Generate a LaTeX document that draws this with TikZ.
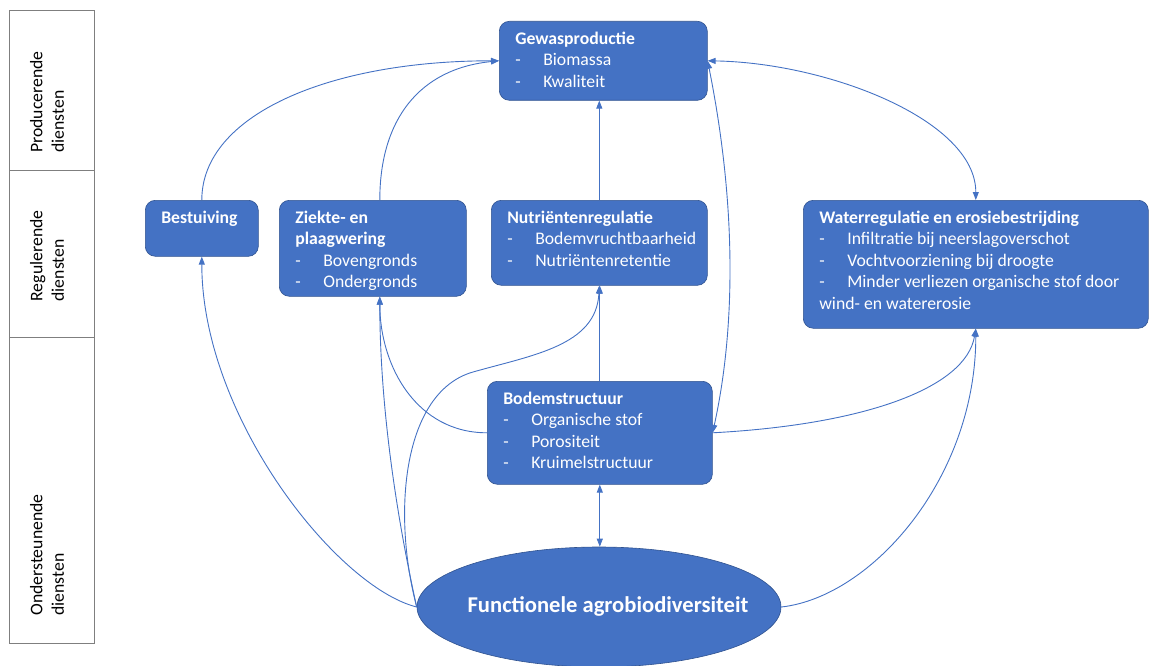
\documentclass[tikz,border=0pt]{standalone}
\usepackage{fontspec}
\setmainfont{Carlito}
\usetikzlibrary{shapes.geometric, arrows.meta}
\definecolor{OfficeBlue}{HTML}{4472C4}
\definecolor{OfficeEdge}{HTML}{2F528F}
\definecolor{FrameGray}{HTML}{7F7F7F}
\newcommand{\svcbody}[3]{\begin{minipage}[c][\dimexpr#2pt-16pt\relax][t]{\dimexpr#1pt-32pt\relax}\raggedright\strut#3\end{minipage}}
\newcommand{\svcitem}[1]{\par\hangindent=28pt\hangafter=1\noindent\makebox[28pt][l]{-}#1}

\begin{document}
\begin{tikzpicture}[x=1pt, y=-1pt, font=\fontsize{17.7}{21.5}\selectfont,
    svc/.style={draw=OfficeEdge, fill=OfficeBlue, text=white, rounded corners=10pt, anchor=north west, inner xsep=16pt, inner ysep=8pt, line width=0.6pt},
    link/.style={OfficeBlue, line width=0.9pt, -{Triangle[length=8pt,width=6pt]}},
    dlink/.style={link, {Triangle[length=8pt,width=6pt]}-{Triangle[length=8pt,width=6pt]}},
    cell/.style={draw=FrameGray, line width=0.8pt, minimum width=85pt, inner sep=0pt},
    celltxt/.style={rotate=90, align=left, inner sep=0pt}]
    \useasboundingbox (0,0) rectangle (1149,666);

    \node[cell, minimum height=160pt] (prod) at (51.5,90) {};
    \node[cell, minimum height=167pt] (reg) at (51.5,253.5) {};
    \node[cell, minimum height=306pt] (onder) at (51.5,490) {};
    \node[celltxt] (prodlbl) at (47,102) {Producerende\\diensten};
    \node[celltxt] (reglbl) at (47,256) {Regulerende\\diensten};
    \node[celltxt] (onderlbl) at (47,555) {Ondersteunende\\diensten};

    \node[svc] (gewas) at (499,21) {\svcbody{208}{79}{\textbf{Gewasproductie}\svcitem{Biomassa}\svcitem{Kwaliteit}}};
    \node[svc] (best) at (145,200) {\svcbody{113}{56}{\textbf{Bestuiving}}};
    \node[svc] (ziekte) at (279,200) {\svcbody{187}{96}{\textbf{Ziekte- en}\\\textbf{plaagwering}\svcitem{Bovengronds}\svcitem{Ondergronds}}};
    \node[svc] (nutr) at (491,200) {\svcbody{216}{85}{\textbf{Nutriëntenregulatie}\svcitem{Bodemvruchtbaarheid}\svcitem{Nutriëntenretentie}}};
    \node[svc] (water) at (803,200) {\svcbody{345}{128}{\textbf{Waterregulatie en erosiebestrijding}\svcitem{Infiltratie bij neerslagoverschot}\svcitem{Vochtvoorziening bij droogte}\svcitem{Minder verliezen organische stof door\\wind- en watererosie}}};
    \node[svc] (bodem) at (487,381) {\svcbody{225}{103}{\textbf{Bodemstructuur}\svcitem{Organische stof}\svcitem{Porositeit}\svcitem{Kruimelstructuur}}};
    \node[ellipse, draw=OfficeEdge, fill=OfficeBlue, text=white, line width=0.6pt, minimum width=364pt, minimum height=120pt, inner sep=0pt, font=\bfseries\fontsize{22.6}{27}\selectfont] (fab) at (599,607) {\makebox[0pt]{\raisebox{-0.5ex}[0pt][0pt]{\hspace{18pt}Functionele agrobiodiversiteit}}};
    \coordinate (sbend) at (473,372);

    \draw[link] (best.north) .. controls +(0,-85) and +(-170,0) .. (gewas.west);
    \draw[link] ([xshift=7pt]ziekte.north) .. controls +(0,-80) and +(-80,8) .. (gewas.west);
    \draw[link] (nutr.north) -- (nutr.north |- gewas.south);
    \draw[dlink] (gewas.east) .. controls +(120,2) and +(0,-80) .. (water.north);
    \draw[dlink] (bodem.east) .. controls +(22,-100) and +(30,150) .. (gewas.east);
    \draw[link] (bodem.east) .. controls +(150,-8) and +(-10,60) .. (water.south);
    \draw[link] (bodem.west) .. controls +(-70,0) and +(0,70) .. ([xshift=7pt]ziekte.south);
    \draw[link] (bodem.north) -- (bodem.north |- nutr.south);
    \draw[dlink] (bodem.south) -- (bodem.south |- fab.north);
    \draw[link] (fab.west) .. controls +(-80,-20) and +(0,160) .. (best.south);
    \draw[link] (fab.west) .. controls +(-20,-90) and +(0,110) .. ([xshift=7pt]ziekte.south);
    \draw[link] (fab.west) .. controls +(-25,-95) and +(-70,20) .. (sbend) .. controls +(60,-17) and +(-3,60) .. (nutr.south);
    \draw[link] (fab.east) .. controls +(90,-10) and +(0,150) .. (water.south);
\end{tikzpicture}
\end{document}
